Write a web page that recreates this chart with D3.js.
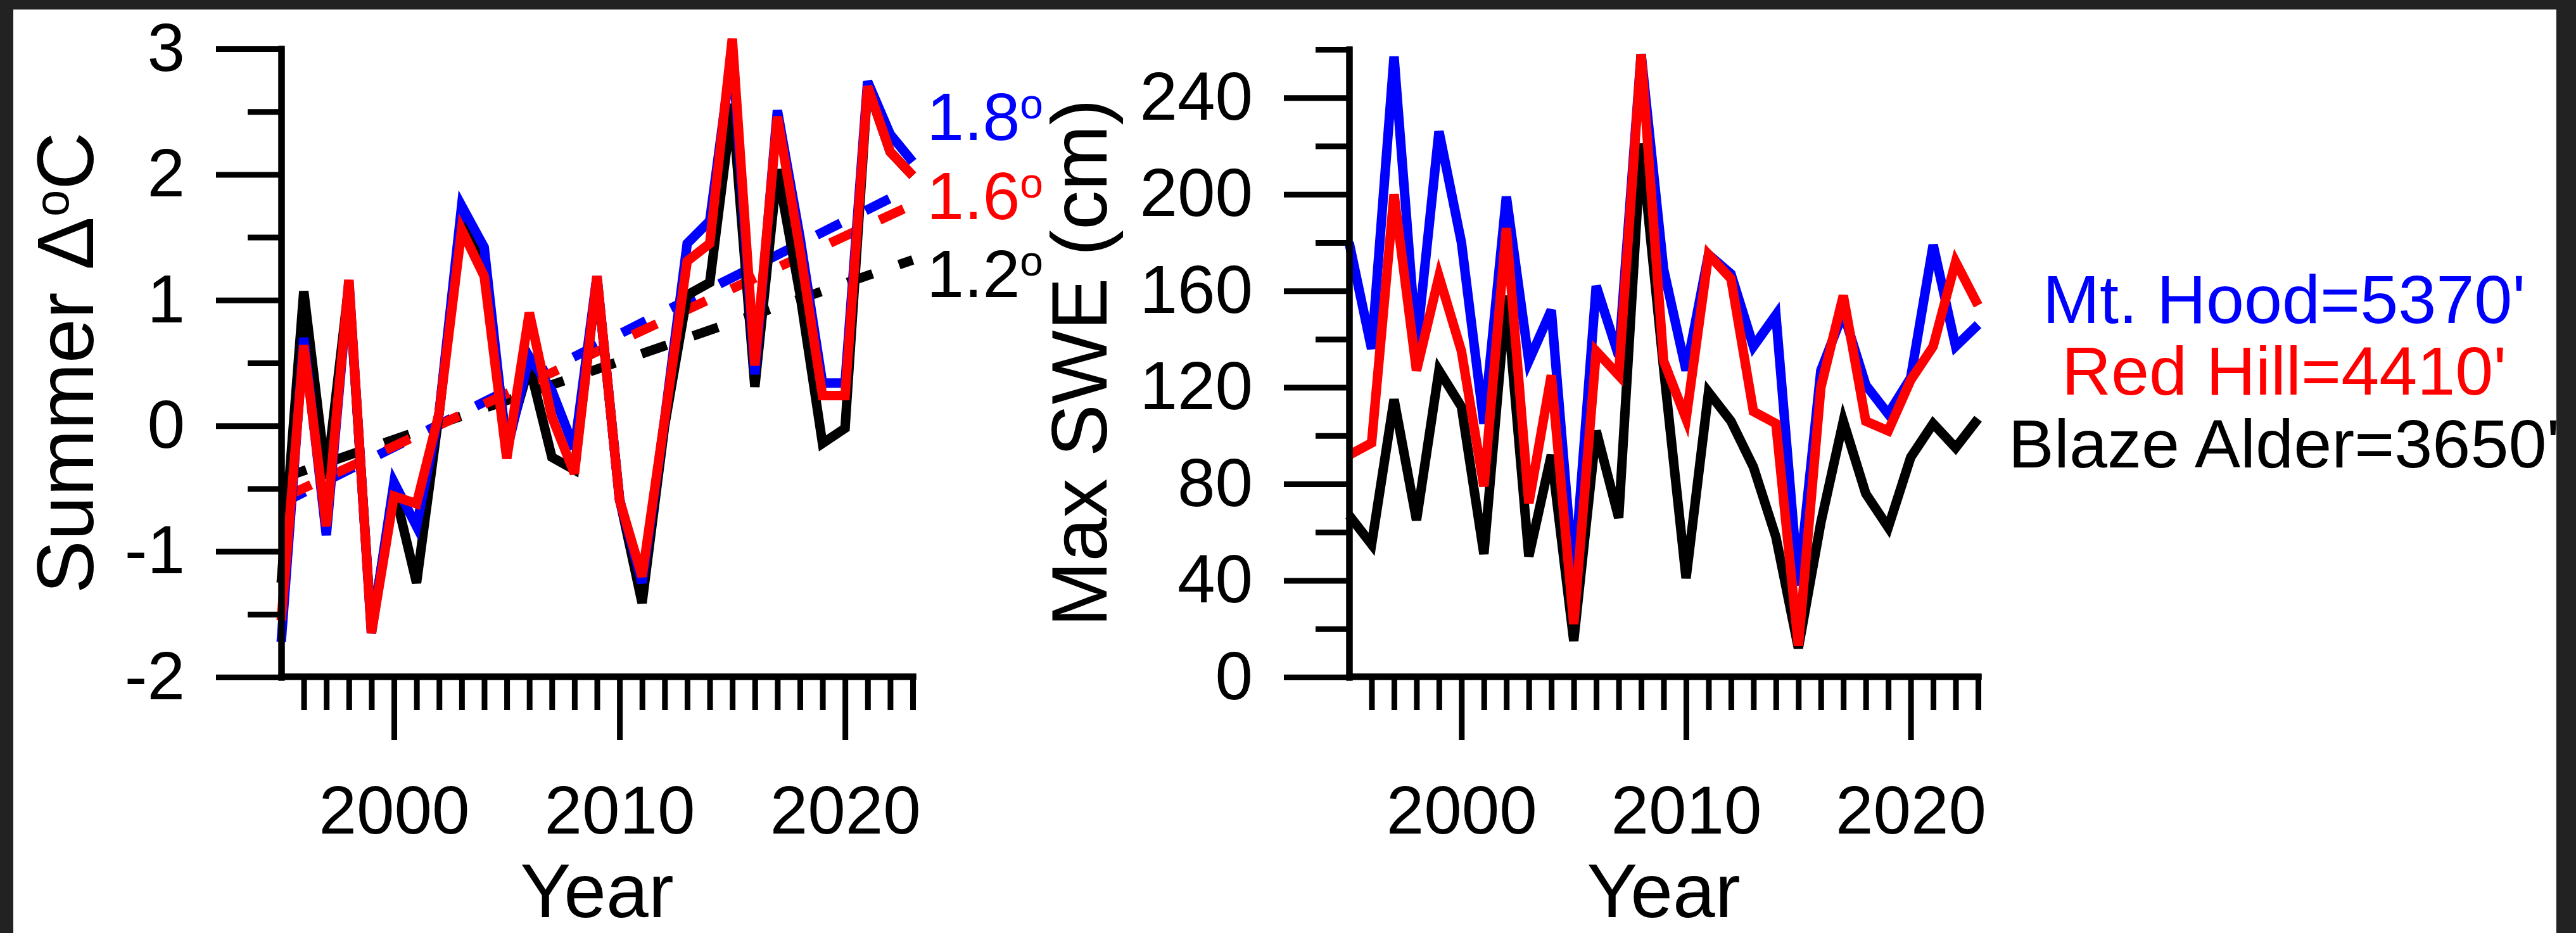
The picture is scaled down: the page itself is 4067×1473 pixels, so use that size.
<!DOCTYPE html>
<html>
<head>
<meta charset="utf-8">
<script src="https://cdn.jsdelivr.net/npm/d3@7"></script>
<style>
body { margin: 0; background: #222; }
svg text { font-family: "Liberation Sans", Arial, sans-serif; }
</style>
</head>
<body>
<script>
var width = 4067, height = 1473;

// data
var years = [1995,1996,1997,1998,1999,2000,2001,2002,2003,2004,2005,2006,2007,2008,2009,
             2010,2011,2012,2013,2014,2015,2016,2017,2018,2019,2020,2021,2022,2023];

var tempMtHood = [-1.72,0.70,-0.87,1.15,-1.65,-0.45,-0.80,0.10,1.75,1.42,-0.20,0.55,0.28,-0.18,1.19,
                  -0.59,-1.25,0.05,1.45,1.63,2.98,0.41,2.51,1.50,0.34,0.34,2.74,2.32,2.10];
var tempRedHill = [-1.55,0.64,-0.80,1.16,-1.65,-0.56,-0.62,0.10,1.56,1.19,-0.26,0.90,0.07,-0.38,1.19,
                   -0.59,-1.20,0.05,1.31,1.45,3.08,0.48,2.46,1.40,0.24,0.24,2.70,2.18,1.99];
var tempBlazeAlder = [-1.25,1.07,-0.42,1.12,-1.62,-0.50,-1.25,0.10,1.66,1.28,-0.15,0.48,-0.25,-0.35,1.17,
                      -0.58,-1.41,0.00,1.04,1.14,2.56,0.31,2.04,1.05,-0.14,-0.02,2.70,2.18,1.99];

// trend lines, value at 1995 and at 2023
var trendYears = [1995, 2023];
var trendMtHood = [-0.62, 1.90];
var trendRedHill = [-0.58, 1.76];
var trendBlazeAlder = [-0.42, 1.32];
var trendLabels = ["1.8", "1.6", "1.2"];

var sweMtHood = [180,136,257,137,226,180,105,199,131,152,40,162,133,258,169,
                 127,175,167,137,150,38,127,151,121,109,124,179,137,146];
var sweRedHill = [92,97,200,127,166,135,79,186,72,125,22,135,125,258,131,
                  107,175,165,110,105,13,120,158,106,102,123,137,172,154];
var sweBlazeAlder = [67,55,115,65,127,112,51,158,50,92,15,102,66,221,128,
                     41,118,106,87,58,12,64,106,76,62,91,105,95,107];

var stations = ["Mt. Hood=5370'", "Red Hill=4410'", "Blaze Alder=3650'"];
var colors = ["#0000ff", "#ff0000", "#000000"];

var tempMajor = [-2,-1,0,1,2,3];
var tempMinor = [-1.5,-0.5,0.5,1.5,2.5];
var sweMajor = [0,40,80,120,160,200,240];
var sweMinor = [20,60,100,140,180,220,260];
var yearMajor = [2000,2010,2020];

var svg = d3.select("body").append("svg")
    .attr("width", width).attr("height", height);

svg.append("rect").attr("x", 21).attr("y", 15)
    .attr("width", 4015).attr("height", height - 15).attr("fill", "#fff");

var x1 = d3.scaleLinear().domain([1995, 2023]).range([444, 1441]);
var y1 = d3.scaleLinear().domain([-2, 3]).range([1069, 77]);
var x2 = d3.scaleLinear().domain([1995, 2023]).range([2130, 3123]);
var y2 = d3.scaleLinear().domain([0, 260]).range([1069, 78]);

var plain = function(d) { return String(d); };

function styleAxis(g) {
    g.attr("font-family", null).attr("font-size", 107);
    g.selectAll(".domain").attr("stroke-width", 10).attr("stroke-linecap", "square");
    g.selectAll(".tick line").attr("stroke-width", 9);
    g.selectAll(".tick text").attr("fill", "#000");
}

function yAxis(scale, x0, major, minor) {
    var g = svg.append("g").attr("transform", "translate(" + x0 + ",0)");
    g.call(d3.axisLeft(scale).tickValues(minor).tickSize(53).tickSizeOuter(0).tickFormat(""));
    g.call(styleAxis);
    var g2 = svg.append("g").attr("transform", "translate(" + x0 + ",0)");
    g2.call(d3.axisLeft(scale).tickValues(major).tickSize(103).tickPadding(49).tickSizeOuter(0)
        .tickFormat(plain));
    g2.call(styleAxis);
}

function xAxis(scale, y0) {
    var minor = years.filter(function(d) { return d > 1995 && d % 10 !== 0; });
    var g = svg.append("g").attr("transform", "translate(0," + y0 + ")");
    g.call(d3.axisBottom(scale).tickValues(minor).tickSize(53).tickSizeOuter(0).tickFormat(""));
    g.call(styleAxis);
    var g2 = svg.append("g").attr("transform", "translate(0," + y0 + ")");
    g2.call(d3.axisBottom(scale).tickValues(yearMajor).tickSize(100).tickPadding(72).tickSizeOuter(0)
        .tickFormat(plain));
    g2.call(styleAxis);
}

// left panel: summer temperature anomaly
var trends = [trendBlazeAlder, trendMtHood, trendRedHill];
var trendColors = ["#000000", "#0000ff", "#ff0000"];
var trendLine = d3.line().x(function(d, i) { return x1(trendYears[i]); }).y(function(d) { return y1(d); });
svg.append("g").selectAll("path").data(trends).enter().append("path")
    .attr("d", trendLine)
    .attr("fill", "none")
    .attr("stroke", function(d, i) { return trendColors[i]; })
    .attr("stroke-width", 15)
    .attr("stroke-dasharray", "42,44")
    .attr("stroke-dashoffset", function(d, i) { return i == 2 ? -10 : 0; });

var tempLine = d3.line().x(function(d, i) { return x1(years[i]); }).y(function(d) { return y1(d); });
var temps = [tempBlazeAlder, tempMtHood, tempRedHill];
svg.append("g").selectAll("path").data(temps).enter().append("path")
    .attr("d", tempLine)
    .attr("fill", "none")
    .attr("stroke", function(d, i) { return trendColors[i]; })
    .attr("stroke-width", 15)
    .attr("stroke-linejoin", "miter");

yAxis(y1, 444, tempMajor, tempMinor);
xAxis(x1, 1068);

// trend annotations
var lab = svg.append("g").selectAll("text").data(trendLabels).enter().append("text")
    .attr("x", 1463)
    .attr("y", function(d, i) { return [221, 346, 469][i]; })
    .attr("font-size", 106)
    .attr("fill", function(d, i) { return colors[i]; });
lab.append("tspan").text(function(d) { return d; });
lab.append("tspan").attr("font-size", 66).attr("dy", -34).text("o");

var t1 = svg.append("text")
    .attr("transform", "translate(147,573) rotate(-90)")
    .attr("text-anchor", "middle")
    .attr("font-size", 126);
t1.append("tspan").text("Summer \u0394");
t1.append("tspan").attr("font-size", 76).attr("dy", -39).text("o");
t1.append("tspan").attr("dy", 39).text("C");

svg.append("text").attr("x", (444 + 1441) / 2).attr("y", 1448)
    .attr("text-anchor", "middle").attr("font-size", 120).text("Year");

// right panel: max SWE
var sweLine = d3.line().x(function(d, i) { return x2(years[i]); }).y(function(d) { return y2(d); });
var swes = [sweBlazeAlder, sweMtHood, sweRedHill];
svg.append("g").selectAll("path").data(swes).enter().append("path")
    .attr("d", sweLine)
    .attr("fill", "none")
    .attr("stroke", function(d, i) { return trendColors[i]; })
    .attr("stroke-width", 15)
    .attr("stroke-linejoin", "miter");

yAxis(y2, 2130, sweMajor, sweMinor);
xAxis(x2, 1068);

svg.append("text")
    .attr("transform", "translate(1747,573) rotate(-90)")
    .attr("text-anchor", "middle")
    .attr("font-size", 124)
    .text("Max SWE (cm)");

svg.append("text").attr("x", (2130 + 3123) / 2).attr("y", 1448)
    .attr("text-anchor", "middle").attr("font-size", 120).text("Year");

svg.append("g").selectAll("text").data(stations).enter().append("text")
    .attr("x", 3606)
    .attr("y", function(d, i) { return [510, 623, 738][i]; })
    .attr("text-anchor", "middle")
    .attr("font-size", 108)
    .attr("fill", function(d, i) { return colors[i]; })
    .text(function(d) { return d; });
</script>
</body>
</html>
